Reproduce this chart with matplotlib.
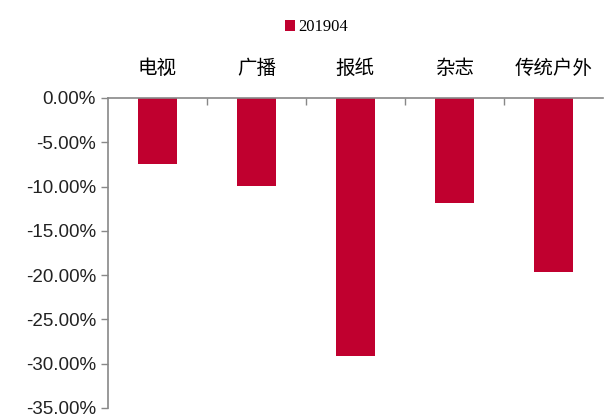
import matplotlib.pyplot as plt
import numpy as np
from matplotlib.ticker import FuncFormatter

categories = ['电视', '广播', '报纸', '杂志', '传统户外']
values = [-7.5, -9.9, -29.2, -11.9, -19.6]
series_name = '201904'
bar_color = '#C0002F'

fig = plt.figure(figsize=(6.09, 4.17), dpi=100)
ax = fig.add_axes([0.177, 0.022, 0.813, 0.743])

x = np.arange(len(categories))
ax.bar(x, values, width=0.4, color=bar_color, label=series_name)

ax.set_xlim(-0.5, len(categories) - 0.5)
ax.set_ylim(-35, 0)
ax.set_yticks(np.arange(-35, 1, 5))
ax.yaxis.set_major_formatter(FuncFormatter(lambda v, p: f'{v:.2f}%'))
ax.tick_params(axis='y', labelsize=13.5, colors='#888888', labelcolor='#222222',
               length=5, width=1, direction='out')
for lab in ax.get_yticklabels():
    lab.set_family(['Liberation Sans', 'DejaVu Sans'])

ax.xaxis.tick_top()
ax.set_xticks(x)
ax.set_xticklabels(categories, family=['Noto Sans CJK SC', 'DejaVu Sans'], fontsize=14)
ax.set_xticks(np.arange(0.5, len(categories) - 0.5, 1), minor=True)
ax.tick_params(axis='x', which='major', length=0, pad=14)
ax.tick_params(axis='x', which='minor', length=5, width=1, direction='in', colors='#888888')

for s in ['right', 'bottom']:
    ax.spines[s].set_visible(False)
for s in ['left', 'top']:
    ax.spines[s].set_color('#888888')
    ax.spines[s].set_linewidth(1.2)

fig.legend(loc='upper center', bbox_to_anchor=(0.52, 0.99), frameon=False,
           prop={'family': 'Liberation Serif', 'size': 12},
           handlelength=0.6, handleheight=0.6, handletextpad=0.2)

fig.savefig('out.png', dpi=100)
